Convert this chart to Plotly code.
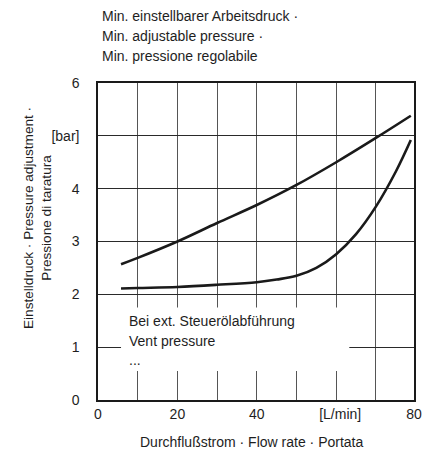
import plotly.graph_objects as go

# Data
flow_upper = [5.8, 10, 20, 30, 40, 50, 60, 70, 78.8]
p_upper = [2.57, 2.69, 3.00, 3.35, 3.69, 4.07, 4.50, 4.96, 5.38]

flow_lower = [5.8, 10, 20, 30, 40, 45, 50, 55, 60, 65, 70, 75, 78.8]
p_lower = [2.11, 2.12, 2.14, 2.18, 2.23, 2.28, 2.35, 2.50, 2.76, 3.14, 3.66, 4.32, 4.92]

x_tickvals = [0, 20, 40, 61, 79.6]
x_ticktext = ["0", "20", "40", "[L/min]", "80"]
y_tickvals = [0, 1, 2, 3, 4, 5, 6]
y_ticktext = ["0", "1", "2", "3", "4", "[bar]", "6"]

title_lines = ["Min. einstellbarer Arbeitsdruck ·", "Min. adjustable pressure ·", "Min. pressione regolabile"]
box_lines = ["Bei ext. Steuerölabführung", "Vent pressure", "..."]
y_title = "Einstelldruck · Pressure adjustment ·<br>Pressione di taratura"
x_title = "Durchflußstrom · Flow rate · Portata"

FONT = "Liberation Sans, Arial, sans-serif"
TXT = "#1e1e1e"

fig = go.Figure()
for xs, ys in [(flow_upper, p_upper), (flow_lower, p_lower)]:
    fig.add_trace(go.Scatter(x=xs, y=ys, mode="lines",
                             line=dict(color="#1a1a1a", width=2.6, shape="spline", smoothing=1.0),
                             showlegend=False, hoverinfo="skip"))

OFF = 8  # page body margin
W, H = 440 - OFF, 452 - OFF
L, T = 98 - OFF, 83 - OFF
pw, ph = 316, 317
R, B = W - L - pw, H - T - ph

def px2paper_x(px):
    return (px - OFF - L) / pw

def px2paper_y(py):
    return (T + ph - (py - OFF)) / ph

# white box that interrupts the grid
fig.add_shape(type="rect", xref="x", yref="y", x0=5.8, x1=63.3, y0=0.55, y1=1.75,
              fillcolor="white", line=dict(width=0), layer="above")

ann = []
for i, t in enumerate(title_lines):
    ann.append(dict(text=t, xref="paper", yref="paper", x=px2paper_x(100), y=px2paper_y(16 + 20 * i),
                    xanchor="left", yanchor="middle", showarrow=False,
                    font=dict(family=FONT, size=14, color=TXT)))
for i, t in enumerate(box_lines):
    ann.append(dict(text=t, xref="paper", yref="paper", x=px2paper_x(127), y=px2paper_y(321 + 19.5 * i),
                    xanchor="left", yanchor="middle", showarrow=False,
                    font=dict(family=FONT, size=14, color=TXT)))
ann.append(dict(text=y_title, xref="paper", yref="paper", x=px2paper_x(37), y=px2paper_y(218),
                xanchor="center", yanchor="middle", textangle=-90, showarrow=False, align="center",
                font=dict(family=FONT, size=13.6, color=TXT)))
ann.append(dict(text=x_title, xref="paper", yref="paper", x=px2paper_x(251.5), y=px2paper_y(441.5),
                xanchor="center", yanchor="middle", showarrow=False,
                font=dict(family=FONT, size=14, color=TXT)))

fig.update_layout(
    width=W, height=H,
    margin=dict(l=L, r=R, t=T, b=B, pad=0),
    paper_bgcolor="white", plot_bgcolor="white",
    font=dict(family=FONT, size=14, color=TXT),
    annotations=ann,
    showlegend=False,
)
fig.update_xaxes(range=[0, 79.6], tickmode="array", tickvals=x_tickvals, ticktext=x_ticktext,
                 showgrid=False, zeroline=False, showline=True, linecolor="#1a1a1a", linewidth=1.5,
                 mirror=True, ticks="", ticklabelstandoff=0,
                 minor=dict(dtick=10, tick0=0, showgrid=True, gridcolor="#555555", gridwidth=1.3, ticks=""),
                 fixedrange=True)
fig.update_yaxes(range=[0, 6], tickmode="array", tickvals=y_tickvals, ticktext=y_ticktext,
                 showgrid=True, gridcolor="#2a2a2a", gridwidth=1.2, zeroline=False,
                 showline=True, linecolor="#1a1a1a", linewidth=1.5, mirror=True, ticks="",
                 ticklabelstandoff=14, fixedrange=True)

fig.write_html("out.html")
